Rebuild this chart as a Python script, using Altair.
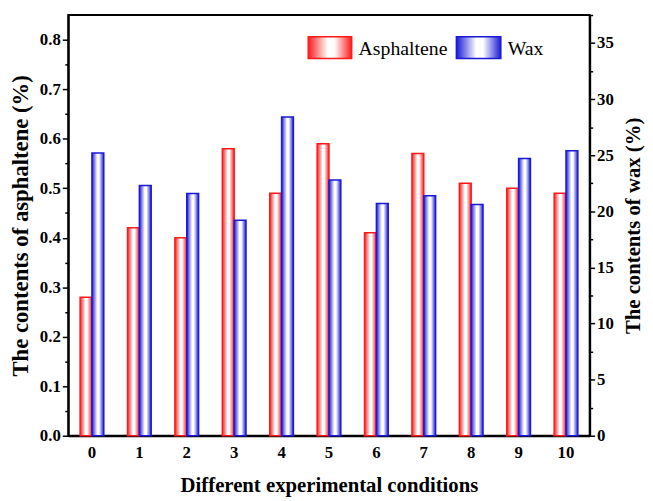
import altair as alt
import pandas as pd

conditions = [0, 1, 2, 3, 4, 5, 6, 7, 8, 9, 10]
asphaltene = [0.28, 0.42, 0.40, 0.58, 0.49, 0.59, 0.41, 0.57, 0.51, 0.50, 0.49]
wax = [25.2, 22.3, 21.6, 19.2, 28.4, 22.8, 20.7, 21.4, 20.6, 24.7, 25.4]
series_names = ["Asphaltene", "Wax"]
left_ticks = [round(i * 0.05, 2) for i in range(17)]
right_ticks = [i * 2.5 for i in range(16)]

rows = []
for c, a, w in zip(conditions, asphaltene, wax):
    rows.append({"condition": c, "series": "Asphaltene", "value": a})
    rows.append({"condition": c, "series": "Wax", "value": w})
df = pd.DataFrame(rows)

FONT = "Liberation Serif"
RED = "#ff1a1a"
BLUE = "#1a1ad6"


def grad(color):
    return {
        "gradient": "linear",
        "x1": 0, "y1": 0, "x2": 1, "y2": 0,
        "stops": [
            {"offset": 0, "color": color},
            {"offset": 0.45, "color": "#ffffff"},
            {"offset": 0.6, "color": "#ffffff"},
            {"offset": 1, "color": color},
        ],
    }


x_enc = alt.X(
    "condition:O",
    scale=alt.Scale(paddingInner=0.5, paddingOuter=0.25),
    axis=alt.Axis(
        title="Different experimental conditions", labelAngle=0, ticks=False,
        labelPadding=9, titlePadding=14, domainWidth=2, domainColor="black",
        titleFontSize=21,
    ),
)
xo_enc = alt.XOffset("series:N", scale=alt.Scale(domain=series_names))

asp = (
    alt.Chart(df)
    .transform_filter(alt.datum.series == "Asphaltene")
    .mark_bar(fill=grad(RED), stroke=RED, strokeWidth=1.5)
    .encode(
        x=x_enc,
        xOffset=xo_enc,
        y=alt.Y(
            "value:Q",
            scale=alt.Scale(domain=[0, 0.85], nice=False),
            axis=alt.Axis(
                title="The contents of asphaltene (%)", orient="left",
                values=left_ticks, format=".1f",
                labelExpr="round(datum.value*100) % 10 == 0 ? datum.label : ''",
                tickSize={"condition": {"test": "round(datum.value*100) % 10 == 0", "value": 6}, "value": 3.5},
                tickWidth=1.5, tickColor="black", labelPadding=2,
                domainWidth=2, domainColor="black", grid=False, titlePadding=7,
                titleFontSize=23,
            ),
        ),
    )
)

wx = (
    alt.Chart(df)
    .transform_filter(alt.datum.series == "Wax")
    .mark_bar(fill=grad(BLUE), stroke=BLUE, strokeWidth=1.5)
    .encode(
        x=x_enc,
        xOffset=xo_enc,
        y=alt.Y(
            "value:Q",
            scale=alt.Scale(domain=[0, 37.5], nice=False),
            axis=alt.Axis(
                title="The contents of wax (%)", orient="right",
                values=right_ticks, format="d",
                labelExpr="datum.value % 5 == 0 ? datum.label : ''",
                tickSize={"condition": {"test": "datum.value % 5 == 0", "value": 5}, "value": 3},
                tickWidth=1.5, tickColor="black", labelPadding=2,
                domainWidth=2, domainColor="black", grid=False, titlePadding=9,
                titleAngle=270, titleBaseline="top", titleFontSize=21,
            ),
        ),
    )
)

legend_df = pd.DataFrame({"series": series_names})

leg_red = alt.Chart(legend_df).transform_filter(alt.datum.series == "Asphaltene").mark_rect(
    fill=grad(RED), stroke=RED, strokeWidth=1.5
).encode(x=alt.value(243), x2=alt.value(287), y=alt.value(22), y2=alt.value(44))
leg_blue = alt.Chart(legend_df).transform_filter(alt.datum.series == "Wax").mark_rect(
    fill=grad(BLUE), stroke=BLUE, strokeWidth=1.5
).encode(x=alt.value(393), x2=alt.value(438), y=alt.value(22), y2=alt.value(44))
leg_txt1 = alt.Chart(legend_df).transform_filter(alt.datum.series == "Asphaltene").mark_text(
    align="left", baseline="middle", font=FONT, fontSize=20, color="black"
).encode(x=alt.value(294), y=alt.value(34), text="series:N")
leg_txt2 = alt.Chart(legend_df).transform_filter(alt.datum.series == "Wax").mark_text(
    align="left", baseline="middle", font=FONT, fontSize=20, color="black"
).encode(x=alt.value(445), y=alt.value(34), text="series:N")

chart = (
    alt.layer(asp, wx, leg_red, leg_blue, leg_txt1, leg_txt2)
    .resolve_scale(y="independent")
    .properties(
        width=528, height=426,
        autosize=alt.AutoSizeParams(type="none"),
        padding={"left": 61, "top": 4, "right": 56, "bottom": 63},
    )
    .configure_view(stroke="black", strokeWidth=2)
    .configure_axis(
        labelFont=FONT, labelFontWeight="bold", labelFontSize=17, labelColor="black",
        titleFont=FONT, titleFontWeight="bold", titleFontSize=19, titleColor="black",
    )
)

chart.save("out.html", embed_options={"renderer": "svg", "actions": False})
